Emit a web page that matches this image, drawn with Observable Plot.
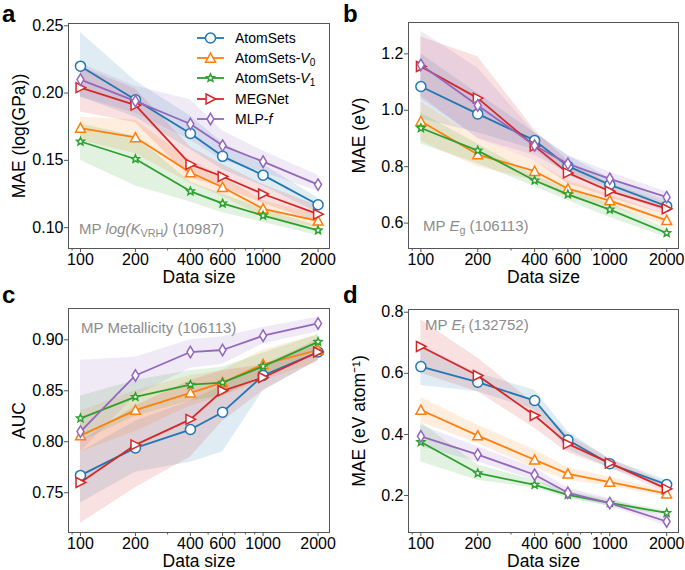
<!DOCTYPE html>
<html><head><meta charset="utf-8">
<script src="https://cdn.jsdelivr.net/npm/d3@7"></script>
<script src="https://cdn.jsdelivr.net/npm/@observablehq/plot@0.6"></script>
<style>
body{margin:0;background:#fff;font-family:"Liberation Sans",Arial,sans-serif}
#fig{position:relative;width:685px;height:570px;overflow:hidden}
.panel{position:absolute}
.letter{position:absolute;font-weight:bold;font-size:24px;line-height:normal}
.note{position:absolute;color:#8c8c8c;font-size:15px;white-space:nowrap;line-height:1}
.note sub{font-size:0.72em;vertical-align:-0.25em;line-height:0}
.legend{position:absolute;font-size:14px;line-height:1}
.legend .row{display:flex;align-items:center;height:20.2px}
.legend sub{font-size:0.72em;vertical-align:-0.25em;line-height:0}
.legend svg{margin-right:10px}
</style></head><body><div id="fig"></div>
<script>
const sizes = [100, 200, 400, 600, 1000, 2000];
const minorTicks = [90, 300, 500, 700, 800, 900];
const models = ["AtomSets", "AtomSets-V0", "AtomSets-V1", "MEGNet", "MLP-f"];
const colors = ["#1f77b4", "#ff7f0e", "#2ca02c", "#d62728", "#9467bd"];

// Panel a: MP log(K_VRH)  rows = models, cols = sizes
const aMean = [
  [0.220, 0.195, 0.170, 0.153, 0.139, 0.117],
  [0.174, 0.167, 0.141, 0.130, 0.114, 0.105],
  [0.164, 0.151, 0.127, 0.118, 0.109, 0.098],
  [0.204, 0.191, 0.147, 0.138, 0.125, 0.110],
  [0.210, 0.194, 0.177, 0.161, 0.149, 0.132]
];
const aLow = [
  [0.197, 0.182, 0.158, 0.143, 0.131, 0.111],
  [0.165, 0.155, 0.133, 0.123, 0.108, 0.100],
  [0.150, 0.131, 0.119, 0.111, 0.104, 0.094],
  [0.186, 0.178, 0.137, 0.130, 0.118, 0.104],
  [0.197, 0.185, 0.165, 0.150, 0.141, 0.127]
];
const aHigh = [
  [0.245, 0.209, 0.183, 0.163, 0.147, 0.122],
  [0.182, 0.180, 0.150, 0.138, 0.120, 0.110],
  [0.177, 0.168, 0.134, 0.125, 0.114, 0.101],
  [0.220, 0.203, 0.160, 0.147, 0.132, 0.116],
  [0.222, 0.205, 0.195, 0.172, 0.157, 0.139]
];

// Panel b: MP E_g
const bMean = [
  [1.084, 0.987, 0.893, 0.802, 0.736, 0.660],
  [0.961, 0.843, 0.784, 0.722, 0.680, 0.610],
  [0.937, 0.857, 0.751, 0.702, 0.648, 0.565],
  [1.155, 1.043, 0.873, 0.778, 0.713, 0.651],
  [1.161, 1.017, 0.875, 0.810, 0.757, 0.692]
];
const bLow = [
  [0.970, 0.920, 0.860, 0.770, 0.710, 0.640],
  [0.890, 0.800, 0.750, 0.690, 0.660, 0.590],
  [0.880, 0.810, 0.730, 0.680, 0.620, 0.550],
  [1.050, 0.900, 0.820, 0.740, 0.690, 0.630],
  [1.040, 0.900, 0.840, 0.780, 0.730, 0.670]
];
const bHigh = [
  [1.200, 1.060, 0.920, 0.840, 0.760, 0.680],
  [1.030, 0.900, 0.820, 0.750, 0.700, 0.630],
  [0.990, 0.880, 0.770, 0.720, 0.670, 0.580],
  [1.260, 1.190, 0.930, 0.820, 0.740, 0.670],
  [1.280, 1.150, 0.920, 0.840, 0.780, 0.710]
];

// Panel c: MP Metallicity (AUC)
const cMean = [
  [0.767, 0.794, 0.812, 0.829, 0.865, 0.888],
  [0.806, 0.831, 0.848, 0.858, 0.876, 0.890],
  [0.823, 0.844, 0.856, 0.858, 0.874, 0.898],
  [0.760, 0.797, 0.822, 0.850, 0.863, 0.888],
  [0.810, 0.865, 0.888, 0.890, 0.904, 0.916]
];
const cLow = [
  [0.740, 0.770, 0.780, 0.790, 0.850, 0.880],
  [0.790, 0.810, 0.835, 0.845, 0.860, 0.878],
  [0.800, 0.825, 0.840, 0.845, 0.863, 0.890],
  [0.720, 0.755, 0.785, 0.820, 0.850, 0.880],
  [0.790, 0.845, 0.872, 0.876, 0.896, 0.908]
];
const cHigh = [
  [0.790, 0.820, 0.840, 0.855, 0.875, 0.895],
  [0.830, 0.850, 0.865, 0.870, 0.890, 0.905],
  [0.845, 0.860, 0.870, 0.873, 0.887, 0.905],
  [0.800, 0.835, 0.860, 0.870, 0.875, 0.900],
  [0.880, 0.883, 0.900, 0.903, 0.912, 0.922]
];

// Panel d: MP E_f
const dMean = [
  [0.622, 0.571, 0.511, 0.382, 0.304, 0.236],
  [0.480, 0.396, 0.317, 0.271, 0.244, 0.206],
  [0.375, 0.273, 0.235, 0.202, 0.176, 0.143],
  [0.688, 0.593, 0.462, 0.369, 0.306, 0.222],
  [0.394, 0.334, 0.268, 0.209, 0.175, 0.115]
];
const dLow = [
  [0.560, 0.540, 0.480, 0.350, 0.290, 0.225],
  [0.440, 0.370, 0.290, 0.250, 0.230, 0.195],
  [0.310, 0.250, 0.225, 0.190, 0.165, 0.135],
  [0.600, 0.540, 0.420, 0.340, 0.290, 0.210],
  [0.360, 0.310, 0.250, 0.195, 0.165, 0.100]
];
const dHigh = [
  [0.690, 0.600, 0.545, 0.410, 0.320, 0.250],
  [0.520, 0.430, 0.350, 0.290, 0.260, 0.215],
  [0.440, 0.300, 0.250, 0.215, 0.185, 0.150],
  [0.775, 0.650, 0.500, 0.400, 0.320, 0.240],
  [0.430, 0.360, 0.290, 0.225, 0.190, 0.130]
];

// ---------- symbols ----------
const rad = s => Math.sqrt(s / Math.PI);
const symCircle = {draw(c, s){const r = rad(s); c.moveTo(r, 0); c.arc(0, 0, r, 0, 2 * Math.PI);}};
const symTriUp = {draw(c, s){const r = rad(s) * 0.95; c.moveTo(0, -r); c.lineTo(r, r * 0.85); c.lineTo(-r, r * 0.85); c.closePath();}};
const symStar = {draw(c, s){const R = rad(s) * 0.78, ri = R * 0.45;
  for (let i = 0; i < 10; i++){const a = -Math.PI / 2 + i * Math.PI / 5, rr = i % 2 ? ri : R;
    const x = rr * Math.cos(a), y = rr * Math.sin(a); i ? c.lineTo(x, y) : c.moveTo(x, y);} c.closePath();}};
const symTriRight = {draw(c, s){const r = rad(s) * 1.0; c.moveTo(r, 0); c.lineTo(-r * 0.85, -r * 0.95); c.lineTo(-r * 0.85, r * 0.95); c.closePath();}};
const symDiamond = {draw(c, s){const r = rad(s); c.moveTo(0, -r * 1.1); c.lineTo(r * 0.66, 0); c.lineTo(0, r * 1.1); c.lineTo(-r * 0.66, 0); c.closePath();}};
const symbols = [symCircle, symTriUp, symStar, symTriRight, symDiamond];
const radii = [5.0, 5.2, 5.2, 5.2, 5.2];

const fig = document.getElementById("fig");
const FONT = '"Liberation Sans", Arial, sans-serif';

function rowsFor(mean, lo, hi, k){
  return sizes.map((s, i) => ({size: s, value: mean[k][i], lo: lo[k][i], hi: hi[k][i]}));
}

function panel({mean, lo, hi, left, top, width, height, margins, yDomain, yTicks, yFmt, yLabel}){
  const marks = [];
  models.forEach((m, k) => {
    marks.push(Plot.areaY(rowsFor(mean, lo, hi, k), {x: "size", y1: "lo", y2: "hi", fill: colors[k], fillOpacity: 0.14}));
  });
  models.forEach((m, k) => {
    const rows = rowsFor(mean, lo, hi, k);
    marks.push(Plot.line(rows, {x: "size", y: "value", stroke: colors[k], strokeWidth: 1.8}));
    marks.push(Plot.dot(rows, {x: "size", y: "value", stroke: colors[k], fill: "white", strokeWidth: 1.5, r: radii[k], symbol: symbols[k]}));
  });
  marks.push(Plot.frame({stroke: "#555", strokeWidth: 1}));
  marks.push(Plot.axisX({ticks: sizes, tickFormat: d => String(d), tickSize: 4, tickPadding: 1, stroke: "#555",
    label: "Data size", labelAnchor: "center", labelArrow: "none", labelOffset: 34}));
  marks.push(Plot.axisX({ticks: minorTicks, tickFormat: () => "", tickSize: 2.5, stroke: "#555", label: null}));
  marks.push(Plot.axisY({ticks: yTicks, tickFormat: yFmt, tickSize: 4, tickPadding: 1, stroke: "#555",
    label: yLabel, labelAnchor: "center", labelArrow: "none", labelOffset: 56}));
  const svg = Plot.plot({
    width, height,
    marginLeft: margins[0], marginRight: margins[1], marginTop: margins[2], marginBottom: margins[3],
    style: {fontFamily: FONT, fontSize: "16px", color: "#000", background: "transparent", overflow: "visible"},
    x: {type: "log", domain: [86, 2310]},
    y: {domain: yDomain},
    marks
  });
  d3.select(svg).selectAll('g[aria-label="x-axis label"] text, g[aria-label="y-axis label"] text').attr("font-size", 17.5);
  const wrap = document.createElement("div");
  wrap.className = "panel";
  wrap.style.left = left + "px"; wrap.style.top = top + "px";
  wrap.appendChild(svg);
  fig.appendChild(wrap);
}

panel({mean: aMean, lo: aLow, hi: aHigh, left: 0, top: 0, width: 342, height: 285, margins: [68, 13, 23, 37],
  yDomain: [0.0845, 0.2517], yTicks: [0.10, 0.15, 0.20, 0.25], yFmt: d3.format(".2f"), yLabel: "MAE (log(GPa))"});
panel({mean: bMean, lo: bLow, hi: bHigh, left: 340, top: 0, width: 345, height: 285, margins: [68, 7, 22, 37],
  yDomain: [0.510, 1.311], yTicks: [0.6, 0.8, 1.0, 1.2], yFmt: d3.format(".1f"), yLabel: "MAE (eV)"});
panel({mean: cMean, lo: cLow, hi: cHigh, left: 0, top: 285, width: 342, height: 285, margins: [68, 13, 23, 38],
  yDomain: [0.711, 0.9307], yTicks: [0.75, 0.80, 0.85, 0.90], yFmt: d3.format(".2f"), yLabel: "AUC"});
panel({mean: dMean, lo: dLow, hi: dHigh, left: 340, top: 285, width: 345, height: 285, margins: [68, 7, 24, 38],
  yDomain: [0.079, 0.809], yTicks: [0.2, 0.4, 0.6, 0.8], yFmt: d3.format(".1f"), yLabel: "MAE (eV atom\u207B\u00B9)"});

// panel letters
[["a", 2, 0], ["b", 343, 0], ["c", 2, 281], ["d", 343, 281]].forEach(([t, x, y]) => {
  const el = document.createElement("div"); el.className = "letter"; el.textContent = t;
  el.style.left = x + "px"; el.style.top = y + "px"; fig.appendChild(el);
});

// dataset notes
[["MP <i>log(K</i><sub>VRH</sub><i>)</i> (10987)", 79, 221],
 ["MP <i>E</i><sub>g</sub> (106113)", 423, 218],
 ["MP Metallicity (106113)", 81, 320],
 ["MP <i>E</i><sub>f</sub> (132752)", 425, 317]].forEach(([h, x, y]) => {
  const el = document.createElement("div"); el.className = "note"; el.innerHTML = h;
  el.style.left = x + "px"; el.style.top = y + "px"; fig.appendChild(el);
});

// legend
const legendLabels = ["AtomSets", "AtomSets-<i>V</i><sub>0</sub>", "AtomSets-<i>V</i><sub>1</sub>", "MEGNet", "MLP-<i>f</i>"];
const leg = document.createElement("div"); leg.className = "legend";
leg.style.left = "196px"; leg.style.top = "28px";
models.forEach((m, k) => {
  const row = document.createElement("div"); row.className = "row";
  const s = d3.create("svg").attr("width", 29).attr("height", 16);
  s.append("line").attr("x1", 1).attr("x2", 28).attr("y1", 8).attr("y2", 8).attr("stroke", colors[k]).attr("stroke-width", 1.8);
  s.append("path").attr("transform", "translate(14.5,8)")
    .attr("d", d3.symbol().type(symbols[k]).size(Math.PI * radii[k] * radii[k])())
    .attr("fill", "white").attr("stroke", colors[k]).attr("stroke-width", 1.5);
  row.appendChild(s.node());
  const t = document.createElement("span"); t.innerHTML = legendLabels[k];
  row.appendChild(t);
  leg.appendChild(row);
});
fig.appendChild(leg);
</script></body></html>
